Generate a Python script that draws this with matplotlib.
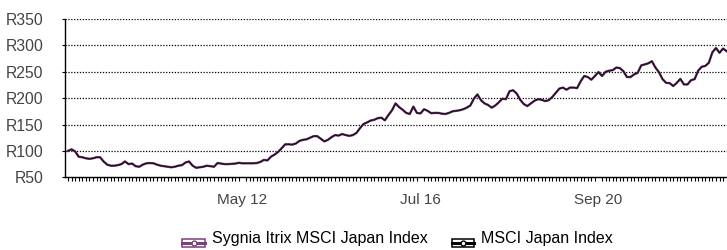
import matplotlib
matplotlib.use("Agg")
import matplotlib.pyplot as plt
from matplotlib.legend_handler import HandlerBase
from matplotlib.patches import Rectangle
from matplotlib.lines import Line2D

plt.rcParams['font.family'] = ['Liberation Sans', 'DejaVu Sans']

# Monthly index levels (rebased to R100), Apr 2008 .. Sep 2023
index_values = [
    100, 103, 99, 89, 88, 86, 85, 86, 88, 88,
    80, 74, 72, 72, 73, 75, 80, 75, 76, 71,
    70, 74, 76.5, 77, 76.5, 74, 72, 71, 70, 69,
    70, 72, 73, 78, 80, 72, 68, 69, 70, 72,
    71, 70, 77, 76, 75, 75, 75.5, 76, 77.5, 76.5,
    76.5, 76.5, 76.5, 77, 79, 83, 82, 89, 93, 98,
    105, 112.5, 112.5, 112, 114, 119, 121, 122, 125, 128,
    128, 123, 118, 121, 126, 130, 129, 132, 130, 128.5,
    130, 134, 143, 151, 154, 157.5, 159, 162, 163, 158,
    168, 177, 190, 183, 178, 172, 170, 184, 172, 171,
    179, 176, 171.5, 172, 172, 170.6, 170, 172, 175, 176,
    177, 179, 182, 186, 199, 207, 196, 190, 187, 182,
    186, 192, 199, 198, 213, 215, 209, 197, 189, 185,
    190, 195, 198, 197, 194.5, 196, 202, 210, 218, 220,
    216, 220, 220, 219, 232, 242, 240, 235, 242, 249.5,
    242, 250, 252, 253, 258, 257, 251, 240, 240, 245,
    248, 262, 264, 266, 270, 258, 249, 236, 229, 228.5,
    223, 229, 236.5, 226, 226, 234, 236, 252, 259.5, 261,
    267, 287, 295, 286, 294, 289,
]
# Fund tracks the index (line hidden beneath the index line)
fund_values = list(index_values)

tick_positions = [49, 99, 149]
tick_labels = ["May 12", "Jul 16", "Sep 20"]
y_ticks = [50, 100, 150, 200, 250, 300, 350]
y_labels = ["R50", "R100", "R150", "R200", "R250", "R300", "R350"]
series_names = ["Sygnia Itrix MSCI Japan Index", "MSCI Japan Index"]
fund_color = "#7b3f7b"
index_color = "#000000"

fig = plt.figure(figsize=(7.27, 2.5), dpi=100)
ax = fig.add_axes([65/727, 1-177.3/250, (727-65)/727, (177.3-19)/250])

x = list(range(len(index_values)))
ax.plot(x, fund_values, color=fund_color, lw=1.7, solid_joinstyle='round')
ax.plot(x, index_values, color="#1e1020", lw=1.0, solid_joinstyle='round')

ax.set_xlim(-0.85, 185.1)
ax.set_ylim(50, 350)
ax.set_yticks(y_ticks)
ax.set_yticklabels(y_labels)
ax.set_xticks(tick_positions)
ax.set_xticklabels(tick_labels)
ax.set_xticks(x, minor=True)
ax.tick_params(axis='x', which='major', length=0, pad=11, labelsize=11, labelcolor='#444444')
ax.tick_params(axis='x', which='minor', length=3.2, width=0.8, color='black', direction='out')
ax.tick_params(axis='y', length=2.5, width=0.8, pad=13, labelsize=11.3, labelcolor='#444444')
for yv in y_ticks[1:]:
    ax.axhline(yv, color='black', lw=0.9, ls=(0, (1, 1.3)), zorder=0)
for s in ['top', 'right']:
    ax.spines[s].set_visible(False)
ax.spines['left'].set_linewidth(1.0)
ax.spines['bottom'].set_linewidth(1.0)


class BoxLineHandler(HandlerBase):
    def create_artists(self, legend, orig_handle, xdescent, ydescent,
                       width, height, fontsize, trans):
        c = orig_handle.get_color()
        y0 = -ydescent - height * 0.3
        h = height * 0.7
        rect = Rectangle((-xdescent, y0), width, h, fc='white', ec=c, lw=1.1, transform=trans)
        cy = y0 + h / 2
        line = Line2D([-xdescent, -xdescent + width], [cy, cy], color=c, lw=2.2, transform=trans)
        mk = Line2D([-xdescent + width / 2], [cy], marker='o', ms=3.5, color=c,
                    mec=c, mfc='white', lw=0, transform=trans)
        return [rect, line, mk]


h1 = Line2D([], [], color=fund_color)
h2 = Line2D([], [], color=index_color)
fig.legend([h1, h2], series_names, loc='center', bbox_to_anchor=(0.547, 0.045),
           ncol=2, frameon=False, fontsize=11.5, handlelength=1.4, handletextpad=0.45,
           columnspacing=1.5, handler_map={Line2D: BoxLineHandler()})

fig.savefig("out.png", dpi=100)
